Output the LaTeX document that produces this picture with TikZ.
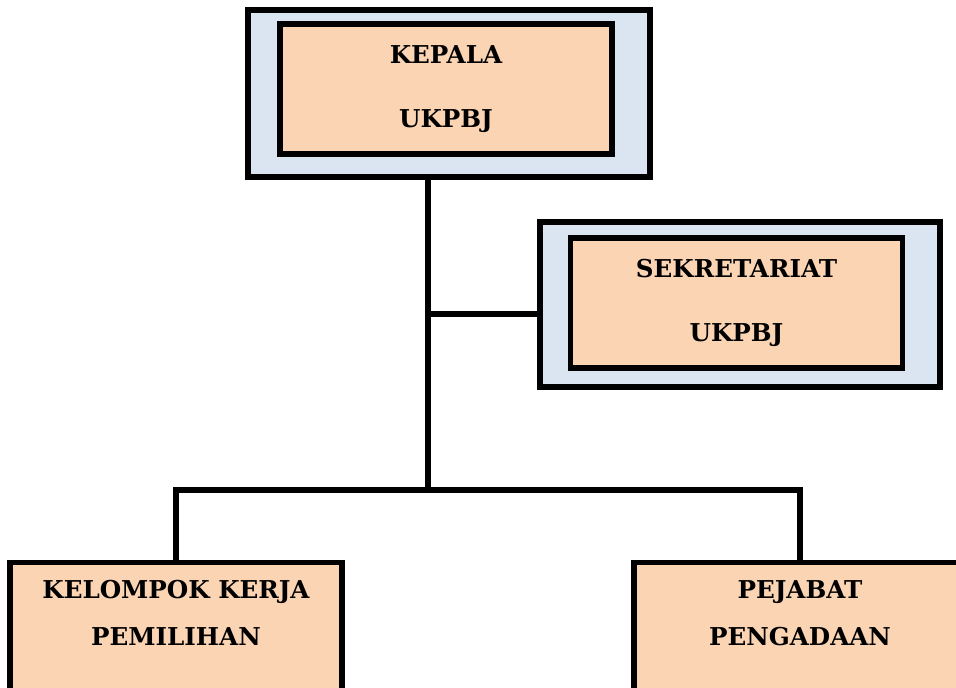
\documentclass[tikz,border=0pt]{standalone}
\usepackage{fontspec}
\setmainfont{DejaVu Serif}
\usetikzlibrary{positioning}
\definecolor{UKBlue}{RGB}{219,229,241}
\definecolor{UKPeach}{RGB}{251,212,180}

\begin{document}
\begin{tikzpicture}[x=0.02cm, y=-0.02cm]
          \tikzset{
            outer/.style={draw=black, line width=3pt, fill=UKBlue, inner sep=0pt},
            inner/.style={draw=black, line width=3pt, fill=UKPeach, inner sep=0pt, align=center,
              minimum width=6.64cm, minimum height=2.6cm, font=\bfseries\fontsize{14}{36}\selectfont},
            low/.style={draw=black, line width=3pt, fill=UKPeach, inner sep=0pt, anchor=north,
              minimum width=6.64cm, minimum height=4cm},
            lowtxt/.style={align=center, inner sep=0pt, font=\bfseries\fontsize{14}{27}\selectfont},
            conn/.style={line width=3.6pt, draw=black}
          }
          \clip (0,0) rectangle (956,687);
          \node[outer, minimum width=8.04cm, minimum height=3.34cm] (kepalaout) at (449,93.5) {};
          \node[inner] (kepala) at (446,89) {KEPALA\\UKPBJ};
          \node[outer, minimum width=8cm, minimum height=3.3cm] (sekout) at (740,304.5) {};
          \node[inner] (sek) at (736.5,303) {SEKRETARIAT\\UKPBJ};
          \node[low] (pokja) at (176,560) {};
          \node[lowtxt] (pokjatxt) at (176,613) {KELOMPOK KERJA\\PEMILIHAN};
          \node[low] (pp) at (800,560) {};
          \node[lowtxt] (pptxt) at (800,613) {PEJABAT\\PENGADAAN};
          \coordinate (branch) at (428,314);
          \coordinate (split) at (428,490);
          \draw[conn] (kepalaout.south -| split) -- (split);
          \draw[conn] (branch) -- (branch -| sekout.west);
          \draw[conn] (pokja.north) |- (split) -| (pp.north);
        \end{tikzpicture}
\end{document}
